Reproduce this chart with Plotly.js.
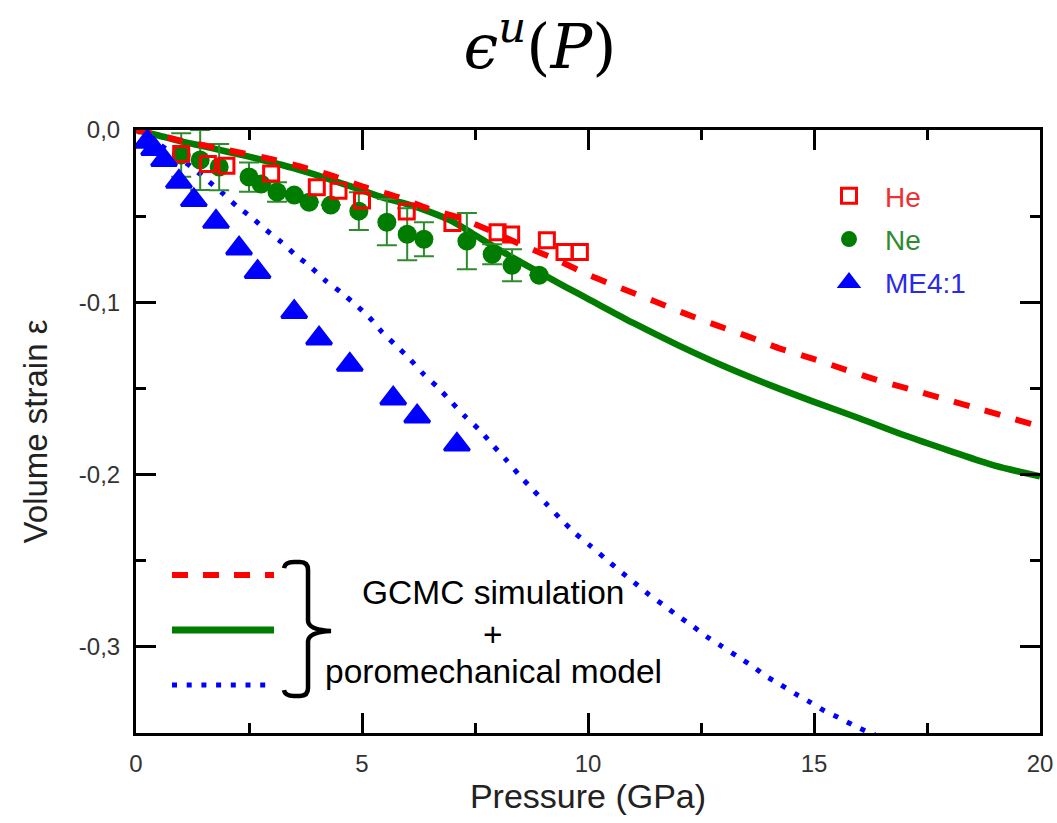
<!DOCTYPE html>
<html>
<head>
<meta charset="utf-8">
<script src="https://cdn.plot.ly/plotly-3.0.1.min.js"></script>
<style>
  html, body { margin: 0; padding: 0; background: #ffffff; }
  #chart { width: 1057px; height: 823px; }
</style>
</head>
<body>
<div id="chart"></div>
<script>
// ---- Measured volume strain vs pressure ----
const pressureHe = [1.0, 1.59, 2.0, 2.99, 4.0, 4.48, 5.0, 5.99, 7.0, 8.0, 8.3, 9.09, 9.48, 9.82];
const strainHe   = [-0.014, -0.0198, -0.0208, -0.0252, -0.0333, -0.0353, -0.0409, -0.0473, -0.054, -0.0593, -0.0606, -0.064, -0.0708, -0.0708];

const pressureNe = [1.0, 1.42, 1.84, 2.5, 2.77, 3.12, 3.5, 3.83, 4.31, 4.93, 5.55, 6.0, 6.37, 7.32, 7.88, 8.32, 8.92];
const strainNe   = [-0.0145, -0.0174, -0.0215, -0.0273, -0.0314, -0.036, -0.0378, -0.0419, -0.0436, -0.0471, -0.0535, -0.0605, -0.0634, -0.0645, -0.0721, -0.0785, -0.0843];
const errorNe    = [0.0126, 0.0174, 0.0134, 0.0085, 0, 0.0056, 0, 0, 0, 0.011, 0.0134, 0.0151, 0.0099, 0.0163, 0.0058, 0.0093, 0];

const pressureME = [0.25, 0.4, 0.62, 0.95, 1.28, 1.77, 2.28, 2.69, 3.5, 4.05, 4.73, 5.69, 6.22, 7.1];
const strainME   = [-0.0068, -0.011, -0.0174, -0.030, -0.0407, -0.0533, -0.0688, -0.0824, -0.1056, -0.121, -0.1362, -0.1558, -0.1663, -0.1826];

// ---- GCMC simulation + poromechanical model curves ----
const modelPressureHe = [0, 1, 2, 3, 3.65, 4.3, 5.04, 5.78, 6.45, 7.19, 7.89, 8.63, 9.33, 10.03, 10.75, 11.47, 12.15, 12.85, 13.58, 14.25, 14.97, 15.69, 16.37, 17.09, 17.81, 18.52, 19.21, 19.87, 20];
const modelStrainHe   = [0, -0.0062, -0.0115, -0.017, -0.0213, -0.0262, -0.033, -0.0388, -0.0455, -0.0513, -0.0591, -0.0678, -0.0756, -0.0843, -0.092, -0.0994, -0.1066, -0.1134, -0.1202, -0.1269, -0.1327, -0.1391, -0.1449, -0.1502, -0.1556, -0.1608, -0.1661, -0.1711, -0.172];

const modelPressureNe = [0, 0.5, 1, 1.5, 2, 2.5, 3, 3.5, 4, 4.5, 5, 5.5, 6, 6.5, 7, 7.5, 8, 8.5, 9, 9.5, 10, 11, 12, 13, 14, 15, 16, 17, 18, 19, 20];
const modelStrainNe   = [0, -0.0032, -0.0066, -0.0095, -0.0125, -0.0155, -0.0188, -0.0222, -0.0262, -0.0305, -0.035, -0.0395, -0.043, -0.0475, -0.053, -0.061, -0.069, -0.0765, -0.0838, -0.0910, -0.0980, -0.1120, -0.1250, -0.1370, -0.1478, -0.1578, -0.1673, -0.1772, -0.1862, -0.1948, -0.201];

const modelPressureME = [0, 0.5, 1.0, 1.3, 1.62, 1.92, 2.23, 2.56, 2.88, 3.21, 3.52, 3.85, 4.18, 4.52, 4.85, 5.16, 5.44, 5.74, 6.05, 6.35, 6.67, 6.98, 7.28, 7.61, 7.9, 8.19, 8.49, 8.78, 9.08, 9.38, 9.7, 10.04, 10.37, 10.69, 11.02, 11.35, 11.68, 11.99, 12.31, 12.63, 12.96, 13.3, 13.63, 13.93, 14.25, 14.58, 14.92, 15.24, 15.54, 15.85, 16.18, 16.35];
const modelStrainME   = [0, -0.008, -0.017, -0.023, -0.0301, -0.0368, -0.0442, -0.0508, -0.0581, -0.0649, -0.0723, -0.0791, -0.0872, -0.0939, -0.1012, -0.1087, -0.1172, -0.1248, -0.1327, -0.1414, -0.1492, -0.1579, -0.1662, -0.1744, -0.1831, -0.1915, -0.2006, -0.2088, -0.2171, -0.2254, -0.2337, -0.2411, -0.2485, -0.2556, -0.2626, -0.2697, -0.2759, -0.2821, -0.2878, -0.2941, -0.2997, -0.3055, -0.311, -0.3169, -0.3218, -0.3272, -0.3322, -0.3373, -0.341, -0.3452, -0.3493, -0.351];

// ---- Axis ticks ----
const xTickVals = [0, 5, 10, 15, 20];
const xTickText = ['0', '5', '10', '15', '20'];
const yTickVals = [0, -0.1, -0.2, -0.3];
const yTickText = ['0,0', '-0,1', '-0,2', '-0,3'];

const RED = '#ff0000', GREEN = '#007d00', BLUE = '#0000ff';
const SANS = 'Liberation Sans, Arial, sans-serif';

// Plot area in pixels (used for the hand-drawn key at lower left)
const PL = 136, PR = 1040, PT = 130, PB = 733;
function pt(px, py) {
  return ((px - PL) / (PR - PL)).toFixed(4) + ',' + ((PB - py) / (PB - PT)).toFixed(4);
}
function px2x(px) { return (px - PL) / (PR - PL); }
function py2y(py) { return (PB - py) / (PB - PT); }

const traces = [
  { x: modelPressureME, y: modelStrainME, mode: 'lines', showlegend: false, hoverinfo: 'skip',
    line: { color: BLUE, width: 5, dash: '5px,10px', shape: 'spline', smoothing: 0.6 } },
  { x: modelPressureNe, y: modelStrainNe, mode: 'lines', showlegend: false, hoverinfo: 'skip',
    line: { color: GREEN, width: 6.5, shape: 'spline', smoothing: 0.8 } },
  { x: pressureNe, y: strainNe, mode: 'markers', name: '<span style="color:#2e8b2e">Ne</span>',
    legendgroup: 'ne', legendrank: 2,
    marker: { symbol: 'circle', size: 19, color: GREEN },
    error_y: { type: 'data', array: errorNe, visible: true, color: '#2e8b2e', thickness: 2, width: 10 } },
  { x: modelPressureHe, y: modelStrainHe, mode: 'lines', showlegend: false, hoverinfo: 'skip',
    line: { color: RED, width: 6, dash: '16px,16px', shape: 'spline', smoothing: 0.6 } },
  { x: pressureHe, y: strainHe, mode: 'markers', name: '<span style="color:#f03030">He</span>',
    legendgroup: 'he', legendrank: 1,
    marker: { symbol: 'square-open', size: 15, color: RED, line: { color: RED, width: 3 } } },
  { x: pressureME, y: strainME, mode: 'markers', name: '<span style="color:#2a2ae8">ME4:1</span>',
    legendgroup: 'me', legendrank: 3,
    marker: { symbol: 'triangle-up', size: 22, color: BLUE, line: { color: BLUE, width: 3 } } }
];

const axisCommon = {
  showline: true, linecolor: '#000', linewidth: 3, mirror: 'ticks',
  ticks: 'inside', ticklen: 20, tickwidth: 3, tickcolor: '#000',
  showgrid: false, zeroline: false,
  tickfont: { family: SANS, size: 24, color: '#333' },
  tickmode: 'array'
};

const layout = {
  width: 1057, height: 823,
  margin: { l: PL, r: 1057 - PR, t: PT, b: 823 - PB },
  paper_bgcolor: '#ffffff', plot_bgcolor: '#ffffff',
  font: { family: SANS, color: '#222' },
  title: {
    text: '<i>ϵ</i><sup><i>u</i></sup>(<i>P</i>)',
    font: { family: 'DejaVu Serif, Liberation Serif, serif', size: 62, color: '#000' },
    x: 540 / 1057, xref: 'container', xanchor: 'center',
    y: 1 - 46 / 823, yref: 'container', yanchor: 'middle'
  },
  xaxis: Object.assign({}, axisCommon, {
    range: [0, 20], tickvals: xTickVals, ticktext: xTickText,
    ticklabelstandoff: 7,
    minor: { ticks: 'inside', ticklen: 10, tickwidth: 3, tickcolor: '#000', tickmode: 'linear', tick0: 0, dtick: 2.5, showgrid: false },
    title: { text: 'Pressure (GPa)', font: { family: SANS, size: 34, color: '#222' }, standoff: 6 }
  }),
  yaxis: Object.assign({}, axisCommon, {
    range: [-0.35, 0], tickvals: yTickVals, ticktext: yTickText,
    ticklabelstandoff: 8,
    minor: { ticks: 'inside', ticklen: 10, tickwidth: 3, tickcolor: '#000', tickmode: 'linear', tick0: 0, dtick: 0.05, showgrid: false },
    title: { text: 'Volume strain ε', font: { family: SANS, size: 33, color: '#222' }, standoff: 22 }
  }),
  legend: {
    x: px2x(813), xanchor: 'left', y: py2y(171), yanchor: 'top',
    bgcolor: 'rgba(0,0,0,0)', borderwidth: 0,
    font: { family: SANS, size: 28 },
    itemwidth: 62, tracegroupgap: 4, traceorder: 'grouped'
  },
  shapes: [
    { type: 'line', xref: 'paper', yref: 'paper', x0: px2x(172), x1: px2x(274), y0: py2y(575), y1: py2y(575),
      line: { color: RED, width: 6, dash: '16px,15px' } },
    { type: 'line', xref: 'paper', yref: 'paper', x0: px2x(172), x1: px2x(274), y0: py2y(630), y1: py2y(630),
      line: { color: GREEN, width: 7 } },
    { type: 'line', xref: 'paper', yref: 'paper', x0: px2x(172), x1: px2x(266), y0: py2y(685), y1: py2y(685),
      line: { color: BLUE, width: 5, dash: '5px,9.7px' } },
    { type: 'path', xref: 'paper', yref: 'paper',
      path: 'M' + pt(284, 568) + ' Q' + pt(285, 562) + ' ' + pt(294, 562) + ' L' + pt(300, 562) +
            ' Q' + pt(308, 562) + ' ' + pt(308, 570) + ' L' + pt(308, 621) +
            ' Q' + pt(309, 630) + ' ' + pt(331, 631) + ' Q' + pt(309, 632) + ' ' + pt(308, 641) +
            ' L' + pt(308, 688) + ' Q' + pt(308, 696) + ' ' + pt(300, 696) + ' L' + pt(294, 696) +
            ' Q' + pt(285, 696) + ' ' + pt(284, 690),
      line: { color: '#000', width: 4.5 } }
  ],
  annotations: [
    { xref: 'paper', yref: 'paper', x: px2x(493), y: py2y(592), text: 'GCMC simulation', showarrow: false,
      font: { family: SANS, size: 33.5, color: '#000' }, xanchor: 'center', yanchor: 'middle' },
    { xref: 'paper', yref: 'paper', x: px2x(493), y: py2y(634), text: '+', showarrow: false,
      font: { family: SANS, size: 33.5, color: '#000' }, xanchor: 'center', yanchor: 'middle' },
    { xref: 'paper', yref: 'paper', x: px2x(493), y: py2y(671), text: 'poromechanical model', showarrow: false,
      font: { family: SANS, size: 33.5, color: '#000' }, xanchor: 'center', yanchor: 'middle' }
  ]
};

Plotly.newPlot('chart', traces, layout, { displayModeBar: false, staticPlot: true });
</script>
</body>
</html>
